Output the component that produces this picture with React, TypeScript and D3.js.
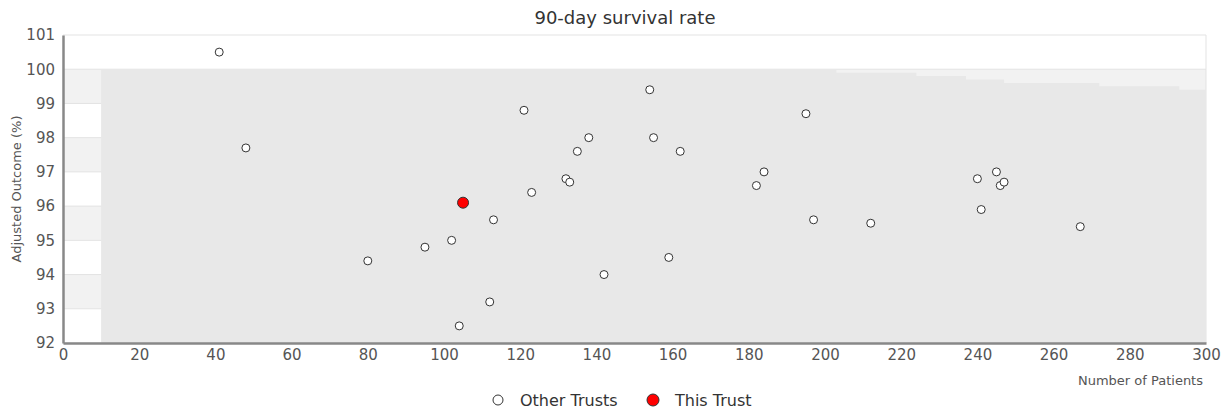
import React, { useEffect, useRef } from 'react';
import * as d3 from 'd3';

// Other trusts: patients vs adjusted outcome
const otherPatients = [41, 48, 80, 95, 102, 113, 104, 112, 121, 123, 132, 133, 135, 138, 142, 154, 155, 159, 162, 182, 184, 195, 197, 212, 240, 241, 245, 246, 247, 267];
const otherOutcome = [100.5, 97.7, 94.4, 94.8, 95.0, 95.6, 92.5, 93.2, 98.8, 96.4, 96.8, 96.7, 97.6, 98.0, 94.0, 99.4, 98.0, 94.5, 97.6, 96.6, 97.0, 98.7, 95.6, 95.5, 96.8, 95.9, 97.0, 96.6, 96.7, 95.4];

// This trust
const thisPatients = [105];
const thisOutcome = [96.1];

// Control limit (upper) steps by number of patients
const limitN = [10, 203, 224, 237, 247, 272, 293, 300];
const limitUpper = [100, 99.9, 99.8, 99.7, 99.6, 99.5, 99.4, 99.4];

const yTicks = [92, 93, 94, 95, 96, 97, 98, 99, 100, 101];
const xTicks = [0, 20, 40, 60, 80, 100, 120, 140, 160, 180, 200, 220, 240, 260, 280, 300];

const App: React.FC = () => {
    const svgRef = useRef<SVGSVGElement>(null);

    useEffect(() => {
        if (!svgRef.current) return;
        const svg = d3.select(svgRef.current);
        svg.selectAll("*").remove();

        const width = 1227;
        const margin = { top: 35, right: 21, bottom: 74, left: 63 };
        const height = 417;
        const font = "DejaVu Sans, sans-serif";

        const x = d3.scaleLinear().domain([0, 300]).range([margin.left, width - margin.right]);
        const y = d3.scaleLinear().domain([92, 101]).range([height - margin.bottom, margin.top]);

        // Alternating bands
        const bands = yTicks.filter(t => t < 101 && (t % 2 === 1));
        svg.append("g")
            .selectAll("rect")
            .data(bands)
            .join("rect")
            .attr("x", x(0))
            .attr("width", x(300) - x(0))
            .attr("y", d => y(d + 1))
            .attr("height", d => y(d) - y(d + 1))
            .attr("fill", "#f2f2f2");

        // Gridlines
        svg.append("g")
            .selectAll("line")
            .data(yTicks)
            .join("line")
            .attr("x1", x(0))
            .attr("x2", x(300))
            .attr("y1", d => y(d))
            .attr("y2", d => y(d))
            .attr("stroke", "#e3e3e3")
            .attr("stroke-width", 1);

        svg.append("line")
            .attr("x1", x(300)).attr("x2", x(300))
            .attr("y1", y(101)).attr("y2", y(92))
            .attr("stroke", "#e3e3e3");

        // Funnel region
        const limits = limitN.map((n, i) => ({ n, v: limitUpper[i] }));
        const area = d3.area<{ n: number; v: number }>()
            .x(d => x(d.n))
            .y0(y(92))
            .y1(d => y(d.v))
            .curve(d3.curveStepAfter);
        svg.append("path")
            .datum(limits)
            .attr("d", area)
            .attr("fill", "#e8e8e8");

        // Axes
        const xAxis = svg.append("g")
            .attr("transform", `translate(0,${y(92)})`)
            .call(d3.axisBottom(x).tickValues(xTicks).tickSize(0).tickPadding(6));
        xAxis.select(".domain").attr("stroke", "#888").attr("stroke-width", 2.5);
        xAxis.selectAll("text").attr("font-family", font).attr("font-size", 15).attr("fill", "#555");

        const yAxis = svg.append("g")
            .attr("transform", `translate(${x(0)},0)`)
            .call(d3.axisLeft(y).tickValues(yTicks).tickSize(0).tickPadding(8));
        yAxis.select(".domain").attr("stroke", "#888").attr("stroke-width", 2.5);
        yAxis.selectAll("text").attr("font-family", font).attr("font-size", 15).attr("fill", "#555");

        // Titles
        svg.append("text")
            .attr("x", 625)
            .attr("y", 24)
            .attr("text-anchor", "middle")
            .attr("font-family", font)
            .attr("font-size", 18)
            .attr("fill", "#333")
            .text("90-day survival rate");

        svg.append("text")
            .attr("x", x(300) - 3)
            .attr("y", 385)
            .attr("text-anchor", "end")
            .attr("font-family", font)
            .attr("font-size", 13)
            .attr("fill", "#555")
            .text("Number of Patients");

        svg.append("text")
            .attr("transform", `translate(21,${y(96.5)}) rotate(-90)`)
            .attr("text-anchor", "middle")
            .attr("font-family", font)
            .attr("font-size", 13)
            .attr("fill", "#555")
            .text("Adjusted Outcome (%)");

        // Points
        const others = otherPatients.map((n, i) => ({ n, v: otherOutcome[i] }));
        svg.append("g")
            .selectAll("circle")
            .data(others)
            .join("circle")
            .attr("cx", d => x(d.n))
            .attr("cy", d => y(d.v))
            .attr("r", 4)
            .attr("fill", "#fff")
            .attr("stroke", "#333")
            .attr("stroke-width", 1);

        const mine = thisPatients.map((n, i) => ({ n, v: thisOutcome[i] }));
        svg.append("g")
            .selectAll("circle")
            .data(mine)
            .join("circle")
            .attr("cx", d => x(d.n))
            .attr("cy", d => y(d.v))
            .attr("r", 5.5)
            .attr("fill", "#ff0000")
            .attr("stroke", "#333")
            .attr("stroke-width", 1);

        // Legend
        const legend = [
            { label: "Other Trusts", fill: "#fff", r: 5, cx: 498, tx: 520 },
            { label: "This Trust", fill: "#ff0000", r: 6, cx: 653, tx: 675 },
        ];
        const lg = svg.append("g");
        lg.selectAll("circle")
            .data(legend)
            .join("circle")
            .attr("cx", d => d.cx)
            .attr("cy", 400)
            .attr("r", d => d.r)
            .attr("fill", d => d.fill)
            .attr("stroke", "#333")
            .attr("stroke-width", 1);
        lg.selectAll("text")
            .data(legend)
            .join("text")
            .attr("x", d => d.tx)
            .attr("y", 406)
            .attr("font-family", font)
            .attr("font-size", 16)
            .attr("fill", "#333")
            .text(d => d.label);
    }, []);

    return (
        <svg ref={svgRef} width={1227} height={417}
            style={{ position: 'absolute', left: 0, top: 0, background: '#fff' }} />
    );
};

export default App;
